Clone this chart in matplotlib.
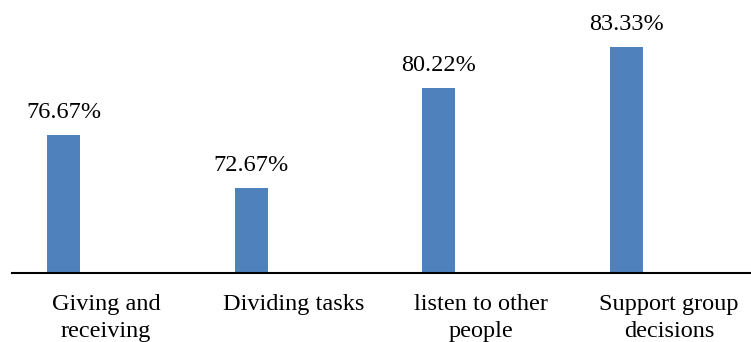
import matplotlib
matplotlib.use("Agg")
import matplotlib.pyplot as plt

categories = ["Giving and\nreceiving", "Dividing tasks", "listen to other\npeople", "Support group\ndecisions"]
values = [76.67, 72.67, 80.22, 83.33]
value_labels = ["76.67%", "72.67%", "80.22%", "83.33%"]

plt.rcParams['font.family'] = ['Liberation Serif', 'DejaVu Serif']

fig = plt.figure(figsize=(7.51, 3.42), dpi=100)
W, H = 751, 342
cat_w = 187.7
left = 12
ax = fig.add_axes([left / W, (H - 273) / H, 4 * cat_w / W, 273 / H])
ymin = 66.25
ax.set_ylim(ymin, ymin + 273 / 13.23)
ax.set_xlim(-0.5, 3.5)

offset = -42.3 / cat_w
bw = 33 / cat_w
xs = [i + offset for i in range(len(values))]
ax.bar(xs, [v - ymin for v in values], bottom=ymin, width=bw, color="#4F81BD")
for x, v, lab in zip(xs, values, value_labels):
    ax.annotate(lab, (x, v), xytext=(0, 9), textcoords="offset points",
                ha="center", va="bottom", fontsize=17.5)

for s in ["top", "right", "left"]:
    ax.spines[s].set_visible(False)
ax.spines["bottom"].set_linewidth(1.5)
ax.set_yticks([])
ax.set_xticks(range(len(categories)))
ax.set_xticklabels(categories, fontsize=17.5, linespacing=1.4)
ax.tick_params(axis="x", length=0, pad=15)

fig.savefig("out.png", dpi=100)
